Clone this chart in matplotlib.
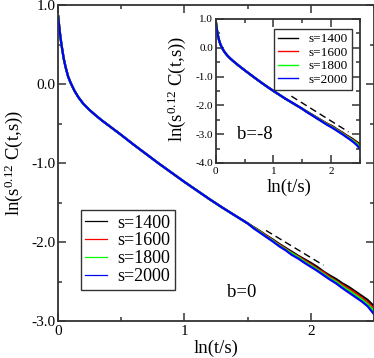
import matplotlib
matplotlib.use('Agg')
import matplotlib.pyplot as plt
from matplotlib.ticker import MultipleLocator, FormatStrFormatter
from matplotlib.lines import Line2D

plt.rcParams['font.family'] = ['Liberation Serif', 'DejaVu Serif']
plt.rcParams['mathtext.fontset'] = 'custom'
plt.rcParams['mathtext.rm'] = 'Liberation Serif'
plt.rcParams['mathtext.default'] = 'regular'
plt.rcParams['axes.unicode_minus'] = False

labels = ['s=1400', 's=1600', 's=1800', 's=2000']
colors = ['black', 'red', '#00ff00', 'blue']

# main panel (b=0): common early part, then one tail per s
main_head_x = [0.002, 0.01, 0.02, 0.03, 0.045, 0.06, 0.08, 0.1, 0.13, 0.16, 0.2, 0.25,
               0.3, 0.35, 0.4, 0.45, 0.5, 0.6, 0.7, 0.8, 0.9, 1.0, 1.1, 1.2, 1.3, 1.4, 1.5]
main_head_y = [0.86, 0.73, 0.59, 0.48, 0.33, 0.22, 0.1, 0.02, -0.08, -0.16, -0.245, -0.325,
               -0.395, -0.46, -0.52, -0.58, -0.64, -0.765, -0.885, -1.005, -1.12, -1.235,
               -1.345, -1.455, -1.56, -1.66, -1.76]
tail_x = [1.55, 1.6, 1.65, 1.7, 1.75, 1.8, 1.85, 1.9, 1.95, 2.0,
          2.05, 2.1, 2.15, 2.2, 2.25, 2.3, 2.35, 2.4, 2.45, 2.5]
main_tail_1400 = [-1.81, -1.86, -1.915, -1.965, -2.02, -2.07, -2.12, -2.17, -2.215, -2.26,
                  -2.31, -2.37, -2.42, -2.465, -2.52, -2.565, -2.62, -2.675, -2.73, -2.81]
main_tail_1600 = [-1.815, -1.865, -1.92, -1.975, -2.03, -2.08, -2.135, -2.18, -2.23, -2.28,
                  -2.335, -2.38, -2.44, -2.49, -2.54, -2.59, -2.64, -2.70, -2.76, -2.84]
main_tail_1800 = [-1.82, -1.87, -1.93, -1.98, -2.04, -2.09, -2.14, -2.19, -2.245, -2.295,
                  -2.345, -2.40, -2.455, -2.50, -2.56, -2.61, -2.665, -2.72, -2.785, -2.87]
main_tail_2000 = [-1.825, -1.88, -1.935, -1.99, -2.05, -2.10, -2.16, -2.205, -2.26, -2.31,
                  -2.36, -2.415, -2.47, -2.52, -2.58, -2.635, -2.69, -2.745, -2.81, -2.91]

# inset panel (b=-8)
ins_head_x = [0.002, 0.01, 0.02, 0.03, 0.045, 0.06, 0.08, 0.1, 0.13, 0.16, 0.2, 0.25,
              0.3, 0.4, 0.5, 0.6, 0.7, 0.8, 0.9, 1.0, 1.1, 1.2, 1.3, 1.4, 1.5]
ins_head_y = [0.9, 0.76, 0.62, 0.5, 0.35, 0.24, 0.12, 0.03, -0.08, -0.17, -0.27, -0.37,
              -0.46, -0.625, -0.78, -0.93, -1.08, -1.225, -1.365, -1.50, -1.63, -1.76,
              -1.88, -2.00, -2.12]
ins_tail_1400 = [-2.18, -2.24, -2.30, -2.36, -2.42, -2.48, -2.54, -2.60, -2.655, -2.70,
                 -2.76, -2.83, -2.89, -2.95, -3.02, -3.08, -3.14, -3.21, -3.28, -3.36]
ins_tail_1600 = [-2.185, -2.245, -2.305, -2.37, -2.43, -2.49, -2.55, -2.61, -2.665, -2.72,
                 -2.78, -2.845, -2.91, -2.97, -3.04, -3.10, -3.17, -3.24, -3.31, -3.40]
ins_tail_1800 = [-2.19, -2.25, -2.315, -2.375, -2.44, -2.50, -2.56, -2.625, -2.68, -2.735,
                 -2.795, -2.86, -2.925, -2.99, -3.06, -3.12, -3.19, -3.26, -3.34, -3.45]
ins_tail_2000 = [-2.195, -2.26, -2.32, -2.385, -2.45, -2.51, -2.575, -2.64, -2.70, -2.755,
                 -2.815, -2.88, -2.945, -3.01, -3.08, -3.15, -3.22, -3.30, -3.39, -3.52]

# guide lines (dashed)
main_guide_x = [1.646, 2.10]
main_guide_y = [-1.85, -2.29]
ins_guide_x = [1.31, 2.30]
ins_guide_y = [-1.68, -2.92]

main_tails = [main_tail_1400, main_tail_1600, main_tail_1800, main_tail_2000]
ins_tails = [ins_tail_1400, ins_tail_1600, ins_tail_1800, ins_tail_2000]


def style_axes(ax, xlim, ylim, fs):
    ax.set_xlim(*xlim)
    ax.set_ylim(*ylim)
    ax.xaxis.set_major_locator(MultipleLocator(1))
    ax.xaxis.set_minor_locator(MultipleLocator(0.5))
    ax.yaxis.set_major_locator(MultipleLocator(1))
    ax.yaxis.set_minor_locator(MultipleLocator(0.5))
    ax.xaxis.set_major_formatter(FormatStrFormatter('%d'))
    ax.yaxis.set_major_formatter(FormatStrFormatter('%.1f'))
    ax.tick_params(which='both', direction='in', top=True, right=True,
                   labelsize=fs, width=1.1, color='#333333')
    ax.tick_params(which='major', length=6)
    ax.tick_params(which='minor', length=3)
    ax.tick_params(axis='y', pad=2)
    ax.tick_params(axis='x', pad=3)
    for sp in ax.spines.values():
        sp.set_linewidth(1.3)
        sp.set_color('#333333')


fig = plt.figure(figsize=(3.74, 3.58), dpi=100)

# main
ax = fig.add_axes([0.155, 0.1025, 0.845, 0.8825])
for tail, c in zip(main_tails, colors):
    ax.plot(main_head_x + tail_x, main_head_y + tail, color=c, lw=1.6)
ax.plot(main_guide_x, main_guide_y, color='black', lw=1, dashes=(5, 3))
style_axes(ax, (0, 2.5), (-3, 1), 11)
ax.text(1.45, -2.63, 'b=0', fontsize=13.5, ha='center', va='center')
handles = [Line2D([], [], color=c, lw=0.9) for c in colors]
ax.legend(handles, labels, loc='upper left', bbox_to_anchor=(0.2158, 0.4134),
          bbox_transform=fig.transFigure, borderaxespad=0, fontsize=13,
          frameon=True, fancybox=False, edgecolor='#333333', framealpha=1,
          handlelength=1.2, handletextpad=0.6, labelspacing=0.05, borderpad=0.25)
fig.text(0.578, 0.028, 'ln(t/s)', fontsize=13.5, ha='center', va='center')
fig.text(0.036, 0.545, 'ln(s$^{0.12}$ C(t,s))', fontsize=13.5, rotation=90,
         ha='center', va='center')

# inset
ax2 = fig.add_axes([0.577, 0.5447, 0.3856, 0.4023])
for tail, c in zip(ins_tails, colors):
    ax2.plot(ins_head_x + tail_x, ins_head_y + tail, color=c, lw=1.6)
ax2.plot(ins_guide_x, ins_guide_y, color='black', lw=1, dashes=(5, 3))
style_axes(ax2, (0, 2.5), (-4, 1), 8)
ax2.text(0.68, -3.0, 'b=-8', fontsize=13.5, ha='center', va='center')
handles2 = [Line2D([], [], color=c, lw=1) for c in colors]
ax2.legend(handles2, labels, loc='upper left', bbox_to_anchor=(0.7326, 0.919),
           bbox_transform=fig.transFigure, borderaxespad=0, fontsize=9.5,
           frameon=True, fancybox=False, edgecolor='#333333', framealpha=1,
           handlelength=1.5, handletextpad=0.8, labelspacing=0.1, borderpad=0.3)
fig.text(0.773, 0.478, 'ln(t/s)', fontsize=13.5, ha='center', va='center')
fig.text(0.473, 0.751, 'ln(s$^{0.12}$ C(t,s))', fontsize=13.5, rotation=90,
         ha='center', va='center')

fig.savefig('out.png', dpi=100)
